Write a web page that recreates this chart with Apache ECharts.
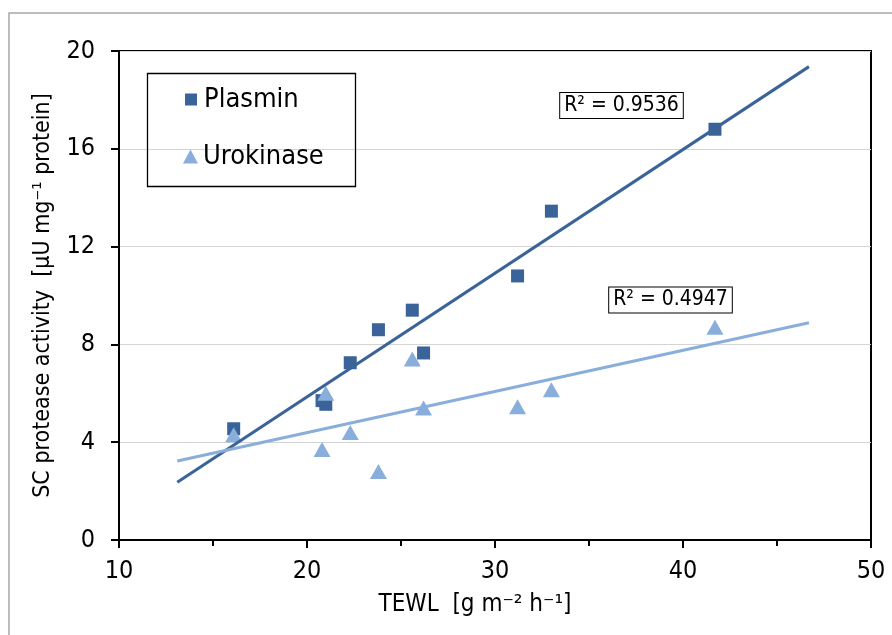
<!DOCTYPE html>
<html><head><meta charset="utf-8">
<script src="https://cdn.jsdelivr.net/npm/echarts@6/dist/echarts.min.js"></script>
<style>html,body{margin:0;padding:0;background:#fff}#c{width:892px;height:635px}</style>
</head><body><div id="c"></div>
<script>
// ---- data ----
const tewl      = [16.1, 20.8, 21.0, 22.3, 23.8, 25.6, 26.2, 31.2, 33.0, 41.7];
const plasmin   = [4.55, 5.7, 5.55, 7.25, 8.6, 9.4, 7.65, 10.8, 13.45, 16.8];
const urokinase = [4.3, 3.7, 6.0, 4.4, 2.8, 7.4, 5.4, 5.45, 6.15, 8.7];
const seriesNames = ['Plasmin', 'Urokinase'];
const r2Labels = ['R\u00b2 = 0.9536', 'R\u00b2 = 0.4947'];
const xTitle = 'TEWL  [g m\u207b\u00b2 h\u207b\u00b9]';
const yTitle = 'SC protease activity  [\u00b5U mg\u207b\u00b9 protein]';
const trendBackward = 3, trendForward = 5;

const FONT = "'DejaVu Sans Condensed', 'DejaVu Sans', sans-serif";
const C1 = '#3a6499', C2 = '#89aedb';

function pairs(xs, ys){ return xs.map((x,i)=>[x, ys[i]]); }
function trend(xs, ys){
  const n = xs.length;
  const mx = xs.reduce((a,b)=>a+b,0)/n, my = ys.reduce((a,b)=>a+b,0)/n;
  let sxy=0, sxx=0;
  for(let i=0;i<n;i++){ sxy += (xs[i]-mx)*(ys[i]-my); sxx += (xs[i]-mx)**2; }
  const b = sxy/sxx, a = my - b*mx;
  const x0 = Math.min(...xs) - trendBackward, x1 = Math.max(...xs) + trendForward;
  return [[x0, a+b*x0],[x1, a+b*x1]];
}

const chart = echarts.init(document.getElementById('c'), null, {renderer:'canvas'});
chart.setOption({
  animation:false,
  backgroundColor:'#fff',
  grid:{left:119, right:21, top:51, bottom:95, show:true, borderColor:'#000', borderWidth:2, backgroundColor:'transparent'},
  xAxis:{
    type:'value', min:10, max:50, interval:10,
    axisLine:{onZero:false, lineStyle:{color:'#000', width:2}},
    axisTick:{show:true, length:8, lineStyle:{color:'#000', width:2}},
    minorTick:{show:true, splitNumber:2, length:6, lineStyle:{color:'#000', width:2}},
    splitLine:{show:false},
    axisLabel:{color:'#000', fontSize:25, fontFamily:FONT, margin:19},
    name:xTitle, nameLocation:'middle', nameGap:53,
    nameTextStyle:{color:'#000', fontSize:24, fontFamily:FONT, padding:[0,40,0,0]}
  },
  yAxis:{
    type:'value', min:0, max:20, interval:4,
    axisLine:{onZero:false, lineStyle:{color:'#000', width:2}},
    axisTick:{show:true, length:8, lineStyle:{color:'#000', width:2}},
    splitLine:{show:true, lineStyle:{color:'#d4d4d4', width:1}},
    axisLabel:{color:'#000', fontSize:25, fontFamily:FONT, margin:24},
    name:yTitle, nameLocation:'middle', nameGap:64, nameRotate:90,
    nameTextStyle:{color:'#000', fontSize:23, fontFamily:FONT}
  },
  legend:[
    {data:[{name:seriesNames[0], icon:'rect'}], left:185, top:86, orient:'vertical', padding:0,
     itemWidth:12, itemHeight:12, itemGap:0, textStyle:{color:'#000', fontSize:27, fontFamily:FONT, padding:[0,0,0,2]}},
    {data:[{name:seriesNames[1], icon:'triangle'}], left:183, top:143, orient:'vertical', padding:0,
     itemWidth:15, itemHeight:14, itemGap:0, textStyle:{color:'#000', fontSize:27, fontFamily:FONT, padding:[0,0,0,0]}}
  ],
  graphic:[
    {type:'rect', silent:true, shape:{x:9, y:13, width:1000, height:1000}, style:{fill:'none', stroke:'#a8a8a8', lineWidth:1.5}},
    {type:'rect', silent:true, shape:{x:147.5, y:73.5, width:208, height:113}, style:{fill:'none', stroke:'#000', lineWidth:1.3}, z:10},
    {type:'text', silent:true, x:621.5, y:105.5, z:10,
     style:{text:r2Labels[0], fontSize:21, fontFamily:FONT, fill:'#000', align:'center', verticalAlign:'middle',
            backgroundColor:'#fff', borderColor:'#000', borderWidth:1, padding:[2,4,2,4]}},
    {type:'text', silent:true, x:670.5, y:300, z:10,
     style:{text:r2Labels[1], fontSize:21, fontFamily:FONT, fill:'#000', align:'center', verticalAlign:'middle',
            backgroundColor:'#fff', borderColor:'#000', borderWidth:1, padding:[2,4,2,4]}}
  ],
  series:[
    {name:seriesNames[0], type:'scatter', data:pairs(tewl, plasmin), symbol:'rect', symbolSize:13,
     itemStyle:{color:C1, opacity:1}, z:3},
    {name:seriesNames[1], type:'scatter', data:pairs(tewl, urokinase), symbol:'triangle', symbolSize:[17,15],
     itemStyle:{color:C2, opacity:1}, z:4},
    {name:'Plasmin trend', type:'line', data:trend(tewl, plasmin), showSymbol:false, symbol:'none',
     lineStyle:{color:C1, width:3}, z:5, silent:true},
    {name:'Urokinase trend', type:'line', data:trend(tewl, urokinase), showSymbol:false, symbol:'none',
     lineStyle:{color:C2, width:3}, z:5, silent:true}
  ]
});
</script></body></html>
